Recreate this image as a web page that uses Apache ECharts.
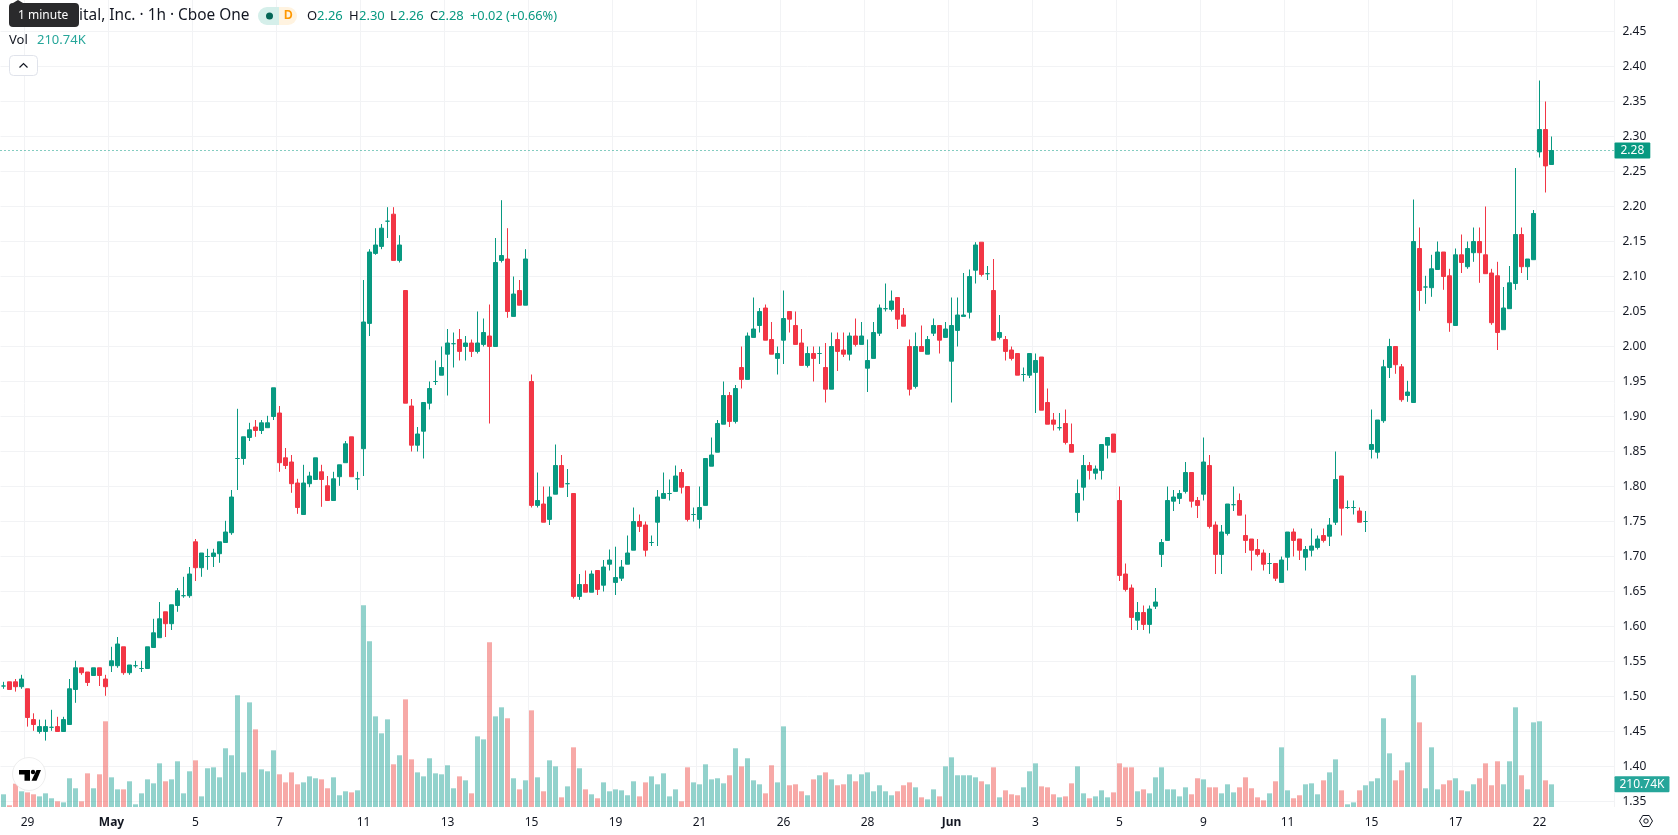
<!DOCTYPE html>
<html>
<head>
<meta charset="utf-8">
<title>Hourly candlesticks</title>
<style>html,body{margin:0;padding:0;background:#fff}#chart{width:1678px;height:835px}</style>
<script src="https://cdn.jsdelivr.net/npm/echarts@6/dist/echarts.min.js"></script>
</head>
<body>
<div id="chart"></div>
<script>
// Hourly OHLC bars, oldest first
const opens = [
1.515,1.521,1.521,1.514,1.511,1.467,1.45,1.45,1.456,1.457,
1.45,1.46,1.51,1.541,1.535,1.53,1.541,1.525,1.544,1.544,
1.571,1.534,1.544,1.54,1.54,1.57,1.584,1.621,1.604,1.63,
1.644,1.644,1.721,1.684,1.7,1.7,1.704,1.72,1.734,1.84,
1.84,1.87,1.885,1.88,1.884,1.9,1.905,1.841,1.835,1.805,
1.76,1.804,1.81,1.821,1.801,1.78,1.814,1.834,1.871,1.811,
1.854,2.033,2.133,2.143,2.179,2.189,2.123,2.08,1.915,1.859,
1.879,1.919,1.95,1.959,1.989,2.004,2.01,2.0,2.005,1.993,
2.003,2.015,2.0,2.123,2.125,2.043,2.08,2.059,1.95,1.773,
1.775,1.753,1.789,1.83,1.804,1.79,1.643,1.66,1.649,1.68,
1.659,1.689,1.663,1.669,1.689,1.709,1.75,1.745,1.72,1.749,
1.783,1.79,1.793,1.82,1.8,1.76,1.753,1.773,1.829,1.849,
1.889,1.93,1.893,1.97,1.953,2.013,2.03,2.055,2.01,1.983,
2.009,2.05,2.03,2.005,1.973,1.99,1.99,1.97,1.939,2.01,
1.995,1.989,2.015,2.003,1.969,1.983,2.019,2.054,2.053,2.07,
2.045,2.0,1.943,2.0,1.989,2.019,2.03,2.013,1.979,2.023,
2.043,2.049,2.109,2.149,2.104,2.08,2.013,2.01,1.995,1.99,
1.96,1.959,1.963,1.985,1.92,1.895,1.884,1.89,1.86,1.763,
1.799,1.83,1.819,1.823,1.859,1.875,1.78,1.675,1.655,1.609,
1.62,1.603,1.629,1.703,1.723,1.779,1.783,1.793,1.82,1.78,
1.789,1.83,1.745,1.703,1.733,1.774,1.78,1.73,1.725,1.71,
1.705,1.69,1.69,1.663,1.699,1.735,1.725,1.699,1.709,1.713,
1.73,1.729,1.749,1.815,1.77,1.77,1.765,1.75,1.853,1.849,
1.894,1.97,2.0,1.971,1.93,1.92,2.14,2.085,2.084,2.11,
2.135,2.101,2.03,2.131,2.114,2.134,2.15,2.131,2.105,2.101,
2.024,2.054,2.09,2.16,2.114,2.124,2.278,2.31,2.26];
const closes = [
1.515,1.51,1.514,1.525,1.47,1.46,1.457,1.457,1.456,1.45,
1.467,1.511,1.541,1.534,1.52,1.541,1.53,1.514,1.551,1.575,
1.534,1.545,1.544,1.54,1.571,1.591,1.611,1.604,1.631,1.651,
1.644,1.675,1.684,1.705,1.7,1.705,1.721,1.735,1.785,1.84,
1.871,1.881,1.88,1.891,1.891,1.941,1.834,1.83,1.804,1.77,
1.805,1.815,1.841,1.81,1.78,1.811,1.831,1.861,1.814,1.811,
2.035,2.135,2.145,2.169,2.179,2.123,2.145,1.919,1.859,1.875,
1.92,1.94,1.95,1.97,2.005,2.004,1.993,2.005,1.993,2.005,
2.02,2.0,2.12,2.13,2.05,2.075,2.059,2.125,1.773,1.78,
1.749,1.785,1.83,1.799,1.804,1.643,1.66,1.649,1.675,1.653,
1.685,1.695,1.67,1.685,1.705,1.75,1.743,1.709,1.72,1.785,
1.79,1.79,1.815,1.799,1.753,1.76,1.77,1.84,1.845,1.89,
1.93,1.893,1.94,1.953,2.015,2.025,2.05,2.009,1.989,1.99,
2.04,2.039,2.003,1.973,1.99,1.983,1.99,1.939,2.0,1.993,
1.989,2.015,2.003,2.015,1.98,2.02,2.055,2.054,2.065,2.039,
2.029,1.939,2.0,1.993,2.01,2.03,2.009,2.025,2.03,2.045,
2.045,2.1,2.145,2.103,2.104,2.009,2.02,1.993,1.983,1.959,
1.96,1.99,1.98,1.909,1.889,1.889,1.884,1.863,1.849,1.79,
1.83,1.823,1.825,1.86,1.87,1.849,1.673,1.653,1.613,1.62,
1.603,1.625,1.635,1.72,1.78,1.785,1.79,1.82,1.779,1.773,
1.835,1.743,1.703,1.735,1.775,1.774,1.759,1.723,1.709,1.703,
1.689,1.69,1.669,1.695,1.735,1.723,1.709,1.71,1.715,1.725,
1.723,1.745,1.81,1.769,1.77,1.77,1.749,1.75,1.86,1.895,
1.971,2.0,1.974,1.924,1.935,2.15,2.08,2.085,2.111,2.135,
2.1,2.034,2.131,2.12,2.14,2.15,2.134,2.104,2.034,2.02,
2.055,2.091,2.16,2.114,2.125,2.19,2.31,2.258,2.28];
const lows = [
1.511,1.51,1.507,1.511,1.457,1.451,1.447,1.437,1.451,1.45,
1.45,1.46,1.491,1.531,1.515,1.53,1.515,1.501,1.535,1.541,
1.531,1.531,1.541,1.535,1.54,1.57,1.584,1.585,1.595,1.621,
1.641,1.641,1.665,1.671,1.681,1.685,1.691,1.72,1.731,1.795,
1.831,1.865,1.871,1.875,1.884,1.895,1.821,1.825,1.791,1.761,
1.76,1.799,1.81,1.771,1.78,1.78,1.801,1.834,1.814,1.795,
1.815,2.015,2.131,2.139,2.155,2.123,2.12,1.919,1.85,1.85,
1.84,1.91,1.945,1.959,1.93,1.97,1.98,1.98,1.985,1.99,
2.0,1.89,2.0,2.12,2.041,2.043,2.059,2.059,1.77,1.77,
1.749,1.745,1.789,1.799,1.785,1.64,1.638,1.649,1.649,1.645,
1.65,1.68,1.645,1.665,1.689,1.709,1.735,1.7,1.715,1.715,
1.783,1.78,1.793,1.79,1.75,1.75,1.74,1.773,1.829,1.849,
1.889,1.885,1.89,1.94,1.953,2.013,2.02,2.009,1.989,1.96,
1.975,2.02,2.003,1.973,1.97,1.95,1.975,1.92,1.939,1.965,
1.985,1.98,2.0,2.003,1.935,1.983,2.015,2.05,2.05,2.025,
2.029,1.93,1.94,1.993,1.989,2.015,1.99,2.013,1.92,2.0,
2.043,2.04,2.09,2.1,2.095,2.009,2.01,1.98,1.98,1.959,
1.95,1.955,1.905,1.909,1.889,1.88,1.88,1.86,1.849,1.75,
1.78,1.81,1.81,1.81,1.84,1.849,1.665,1.65,1.595,1.595,
1.595,1.59,1.625,1.685,1.723,1.765,1.775,1.79,1.77,1.755,
1.78,1.74,1.675,1.675,1.73,1.765,1.759,1.705,1.68,1.7,
1.68,1.675,1.665,1.663,1.68,1.7,1.695,1.68,1.7,1.71,
1.72,1.715,1.745,1.73,1.768,1.76,1.749,1.735,1.84,1.84,
1.891,1.955,1.961,1.921,1.921,1.92,2.051,2.061,2.071,2.11,
2.081,2.021,2.03,2.105,2.111,2.121,2.091,2.104,2.031,1.995,
2.024,2.054,2.081,2.105,2.095,2.124,2.27,2.22,2.26];
const highs = [
1.521,1.521,1.525,1.531,1.511,1.476,1.467,1.467,1.481,1.471,
1.471,1.525,1.551,1.541,1.535,1.541,1.541,1.531,1.571,1.585,
1.571,1.545,1.551,1.551,1.571,1.611,1.635,1.621,1.631,1.655,
1.671,1.685,1.725,1.705,1.711,1.711,1.721,1.751,1.795,1.911,
1.871,1.891,1.895,1.895,1.901,1.941,1.915,1.855,1.845,1.811,
1.831,1.821,1.841,1.831,1.815,1.821,1.831,1.865,1.871,1.821,
2.095,2.139,2.169,2.175,2.199,2.199,2.159,2.08,1.925,1.885,
1.92,1.95,1.98,2.0,2.025,2.02,2.025,2.015,2.01,2.05,
2.04,2.06,2.155,2.209,2.169,2.1,2.095,2.139,1.96,1.82,
1.8,1.8,1.86,1.845,1.825,1.79,1.675,1.68,1.68,1.68,
1.695,1.71,1.714,1.695,1.73,1.77,1.76,1.75,1.73,1.795,
1.82,1.81,1.83,1.825,1.8,1.77,1.8,1.84,1.87,1.895,
1.95,1.935,1.945,2.0,2.02,2.07,2.055,2.06,2.035,2.0,
2.08,2.05,2.05,2.025,2.0,2.0,2.0,2.005,2.02,2.02,
2.02,2.02,2.04,2.035,2.01,2.035,2.06,2.09,2.08,2.07,
2.055,2.01,2.02,2.03,2.015,2.04,2.03,2.035,2.07,2.07,
2.105,2.11,2.149,2.149,2.115,2.125,2.045,2.015,2.0,1.99,
1.97,1.99,1.99,1.985,1.94,1.905,1.905,1.91,1.89,1.81,
1.845,1.835,1.83,1.86,1.87,1.875,1.8,1.69,1.66,1.635,
1.63,1.63,1.655,1.725,1.8,1.795,1.795,1.835,1.82,1.785,
1.87,1.845,1.75,1.745,1.775,1.8,1.79,1.76,1.725,1.725,
1.71,1.705,1.69,1.7,1.735,1.74,1.725,1.715,1.74,1.73,
1.74,1.755,1.85,1.815,1.78,1.78,1.77,1.765,1.91,1.895,
1.981,2.011,2.0,1.975,1.951,2.21,2.17,2.101,2.131,2.15,
2.135,2.111,2.14,2.16,2.15,2.17,2.17,2.2,2.111,2.121,
2.085,2.115,2.255,2.17,2.125,2.195,2.38,2.35,2.3];
// Volume per bar, in thousands
const volumes = [
118,16,217,146,136,118,99,127,81,53,
43,267,174,53,313,174,304,797,276,164,
164,239,25,127,257,220,406,239,257,425,
127,332,434,99,360,369,276,546,481,1039,
322,973,722,350,332,527,304,229,322,211,
229,285,267,257,174,276,109,146,136,155,
1876,1541,843,685,815,397,481,1001,443,322,
285,453,313,304,388,174,285,248,127,657,
629,1531,843,927,825,267,164,248,899,276,
146,434,378,90,192,555,360,164,118,81,
229,146,164,155,109,239,99,229,285,211,
313,99,164,53,369,229,211,397,257,267,
220,295,546,378,453,248,211,127,388,229,
750,202,211,146,109,257,295,322,257,202,
211,304,239,304,322,146,202,146,109,146,
202,229,183,90,71,164,99,378,462,295,
295,295,276,239,211,369,90,155,118,109,
183,332,406,192,183,118,90,99,220,378,
127,81,99,155,90,136,406,369,369,146,
164,127,276,369,164,164,99,183,118,267,
257,183,183,127,211,136,183,276,174,90,
62,127,239,555,155,81,109,211,220,118,
248,322,443,155,25,43,155,202,239,267,
825,499,248,341,415,1225,787,174,555,164,
211,248,267,155,146,211,267,406,202,425,
211,425,927,295,164,787,797,248,210.74];
// Date labels, one every fourteen bars starting from the fifth
const tickLabels = ['29','May','5','7','11','13','15','19','21','26','28','Jun','3','5','9','11','15','17','22'];
const monthLabels = ['May','Jun'];
const firstTickBar = 4;
const barsPerTick = 14;
const emptyBarsRight = 10;

const UP = '#089981', DOWN = '#F23645';
const VOL_UP = 'rgba(38,166,154,0.5)', VOL_DOWN = 'rgba(239,83,80,0.5)';
const GRID = '#f2f3f5', INK = '#131722';
const FONT = '"Noto Sans", sans-serif';

const lastClose = closes[closes.length - 1];
const lastVolume = volumes[volumes.length - 1];
const totalBars = opens.length + emptyBarsRight;

const isTick = i => i >= firstTickBar && (i - firstTickBar) % barsPerTick === 0
  && (i - firstTickBar) / barsPerTick < tickLabels.length;
const categories = Array.from({length: totalBars}, (_, i) =>
  isTick(i) ? tickLabels[(i - firstTickBar) / barsPerTick] : 'b' + i);

const candleData = opens.map((o, i) => [o, closes[i], lows[i], highs[i]]);
const volumeData = volumes.map((v, i) => ({
  value: v,
  itemStyle: {color: closes[i] < opens[i] ? VOL_DOWN : VOL_UP}
}));

const text = (x, y, str, fill, size, extra, z) => ({
  type: 'text', z: z || 100, x, y,
  style: Object.assign({text: str, fill, font: (size || 13) + 'px ' + FONT, verticalAlign: 'middle'}, extra || {})
});

const chart = echarts.init(document.getElementById('chart'), null, {renderer: 'canvas'});
chart.setOption({
  animation: false,
  backgroundColor: '#fff',
  grid: [
    {left: 0.5, width: 1614, top: -3.5, height: 805, outerBoundsMode: 'none'},
    {left: 0.5, width: 1614, top: 0, height: 807, outerBoundsMode: 'none'}
  ],
  xAxis: [
    {type: 'category', gridIndex: 0, data: categories, show: false},
    {
      type: 'category', gridIndex: 1, data: categories,
      axisLine: {show: false}, axisTick: {show: false},
      axisLabel: {
        interval: (i) => isTick(i), margin: 10, hideOverlap: false,
        color: INK, fontFamily: FONT, fontSize: 12,
        formatter: v => monthLabels.includes(v) ? '{m|' + v + '}' : v,
        rich: {m: {fontWeight: 'bold', color: INK, fontFamily: FONT, fontSize: 12}}
      },
      splitLine: {show: true, interval: (i) => isTick(i), lineStyle: {color: GRID, width: 1}}
    }
  ],
  yAxis: [
    {
      type: 'value', gridIndex: 0, position: 'right', min: 1.35, max: 2.5, interval: 0.05,
      axisLine: {show: false}, axisTick: {show: false},
      axisLabel: {margin: 8, color: INK, fontFamily: FONT, fontSize: 12, showMaxLabel: false, formatter: v => v.toFixed(2)},
      splitLine: {show: true, lineStyle: {color: GRID, width: 1}}
    },
    {type: 'value', gridIndex: 1, min: 0, max: 7505, show: false, splitLine: {show: false}}
  ],
  series: [
    {
      type: 'bar', name: 'Vol', xAxisIndex: 1, yAxisIndex: 1, z: 2,
      barWidth: 5, data: volumeData,
      markLine: {
        silent: true, symbol: 'none', animation: false,
        lineStyle: {color: 'transparent'},
        data: [{yAxis: lastVolume}],
        label: {
          show: true, position: 'end', distance: 0,
          formatter: () => lastVolume.toFixed(2) + 'K',
          backgroundColor: '#26a69a', color: '#fff', fontFamily: FONT, fontSize: 12,
          padding: [2, 5, 2, 5], lineHeight: 12, borderRadius: 1
        }
      }
    },
    {
      type: 'candlestick', name: 'Price', xAxisIndex: 0, yAxisIndex: 0, z: 5,
      barWidth: 4, data: candleData,
      itemStyle: {color: UP, color0: DOWN, borderColor: UP, borderColor0: DOWN, borderColorDoji: UP, borderWidth: 1},
      markLine: {
        silent: true, symbol: 'none', animation: false,
        lineStyle: {color: UP, width: 1, type: [1, 3]},
        data: [{yAxis: lastClose}],
        label: {
          show: true, position: 'end', distance: 0,
          formatter: () => lastClose.toFixed(2),
          backgroundColor: UP, color: '#fff', fontFamily: FONT, fontSize: 12,
          padding: [2, 6, 2, 6], lineHeight: 12, borderRadius: 1
        }
      }
    }
  ],
  graphic: [
    // Legend row
    text(79, 16, 'ital, Inc. · 1h · Cboe One', INK, 15.4),
    {type: 'rect', z: 99, shape: {x: 258, y: 7, width: 21, height: 18, r: [9, 0, 0, 9]}, style: {fill: '#d5efea'}},
    {type: 'circle', z: 100, shape: {cx: 269.5, cy: 16, r: 3.5}, style: {fill: '#056656'}},
    {type: 'rect', z: 99, shape: {x: 279, y: 7, width: 18, height: 18, r: [0, 9, 9, 0]}, style: {fill: '#fff3e0'}},
    text(284, 16, 'D', '#ff9800', 12, {fontWeight: 'bold'}),
    text(307, 16, 'O', INK), text(317, 16, '2.26', UP),
    text(349, 16, 'H', INK), text(359, 16, '2.30', UP),
    text(390, 16, 'L', INK), text(398, 16, '2.26', UP),
    text(430, 16, 'C', INK), text(438, 16, '2.28', UP),
    text(470, 16, '+0.02 (+0.66%)', UP, 12.8),
    // Volume row
    text(9, 40.5, 'Vol', INK), text(37, 40.5, '210.74K', '#26a69a'),
    // Collapse button
    {type: 'rect', z: 100, shape: {x: 9.5, y: 55.5, width: 28, height: 20, r: 4}, style: {fill: '#fff', stroke: '#e0e3eb', lineWidth: 1}},
    {type: 'polyline', z: 101, shape: {points: [[19.5, 67.5], [23.5, 63.5], [27.5, 67.5]]}, style: {fill: 'none', stroke: INK, lineWidth: 1.2}},
    // Interval tooltip
    {type: 'polygon', z: 110, shape: {points: [[13, 3], [18, 0], [23, 3]]}, style: {fill: '#2a2a2c'}},
    {type: 'rect', z: 110, shape: {x: 9, y: 3, width: 70, height: 24, r: 4}, style: {fill: '#2a2a2c'}},
    text(18, 15.5, '1 minute', '#ffffff', 12, {}, 111),
    // Platform badge
    {type: 'circle', z: 50, shape: {cx: 29, cy: 774, r: 16.5}, style: {fill: 'rgba(255,255,255,0.95)', stroke: '#eeeeee', lineWidth: 1}},
    {type: 'polygon', z: 51, shape: {points: [[19, 770], [30, 770], [30, 780.7], [24.5, 780.7], [24.5, 774.5], [19, 774.5]]}, style: {fill: '#000'}},
    {type: 'circle', z: 51, shape: {cx: 33, cy: 772, r: 2.2}, style: {fill: '#000'}},
    {type: 'polygon', z: 51, shape: {points: [[36.5, 770], [41, 770], [36.5, 780.7], [31.5, 780.7]]}, style: {fill: '#000'}},
    // Settings icon
    {type: 'polygon', z: 60, shape: {points: [[1639.5, 821], [1642.8, 815.5], [1649.2, 815.5], [1652.5, 821], [1649.2, 826.5], [1642.8, 826.5]]}, style: {fill: 'none', stroke: INK, lineWidth: 1}},
    {type: 'circle', z: 60, shape: {cx: 1646, cy: 821, r: 2.2}, style: {fill: 'none', stroke: INK, lineWidth: 1}}
  ]
});
</script>
</body>
</html>
